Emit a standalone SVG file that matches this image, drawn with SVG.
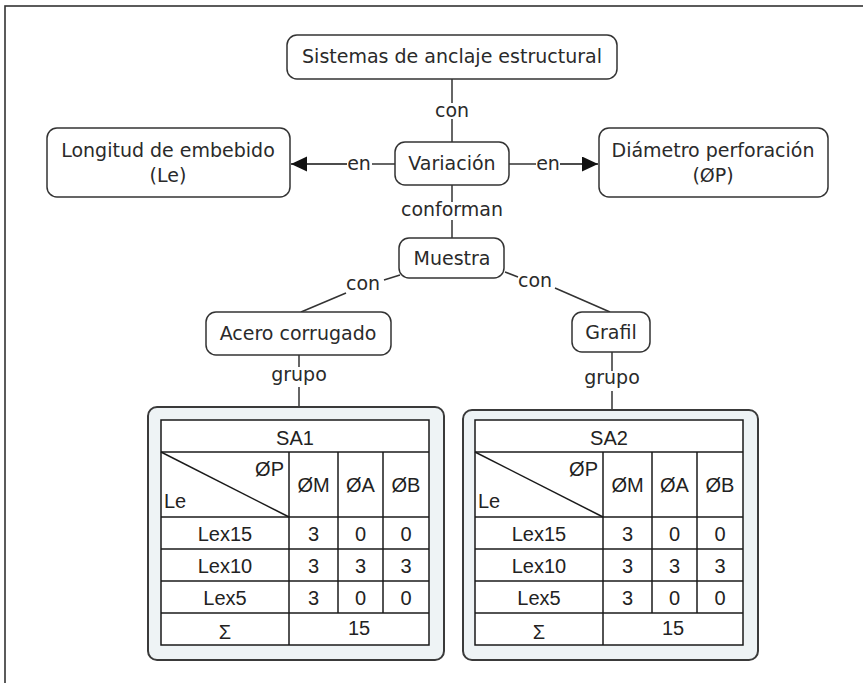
<svg xmlns="http://www.w3.org/2000/svg" width="863" height="683" viewBox="0 0 863 683">
  <style>
    .frame { fill: #ffffff; stroke: #333333; stroke-width: 1.6; }
    .concept rect { fill: #ffffff; stroke: #333333; stroke-width: 1.5; }
    .concept text, .link-label { font-family: "DejaVu Sans", Verdana, sans-serif; font-size: 19px; fill: #2a2a2a; text-anchor: middle; }
    .link { stroke: #333333; stroke-width: 1.5; fill: none; }
    .arrow { stroke: #111111; stroke-width: 1.5; fill: none; }
    .holder { fill: #eef3f5; stroke: #3a3a3a; stroke-width: 2; }
    .grid { fill: #ffffff; stroke: #1a1a1a; stroke-width: 1.5; }
    .gl { stroke: #1a1a1a; stroke-width: 1.5; }
    .cell { font-family: "Liberation Sans", Arial, sans-serif; font-size: 20px; fill: #222222; text-anchor: middle; }
    .cell.end { text-anchor: end; }
    .cell.start { text-anchor: start; }
  </style>
  <defs>
    <marker id="head" markerUnits="userSpaceOnUse" markerWidth="16" markerHeight="16" refX="16" refY="7.5" orient="auto">
      <path d="M0,0 L16,7.5 L0,15 Z" fill="#111111"/>
    </marker>
    <!-- grid, corner cell and values shared by both sample tables -->
    <g id="sample-table">
      <rect class="grid" x="161" y="420" width="268" height="225"/>
      <line class="gl" x1="161" y1="452" x2="429" y2="452"/>
      <line class="gl" x1="161" y1="517" x2="429" y2="517"/>
      <line class="gl" x1="161" y1="549" x2="429" y2="549"/>
      <line class="gl" x1="161" y1="581" x2="429" y2="581"/>
      <line class="gl" x1="161" y1="613" x2="429" y2="613"/>
      <line class="gl" x1="289" y1="452" x2="289" y2="645"/>
      <line class="gl" x1="338" y1="452" x2="338" y2="613"/>
      <line class="gl" x1="383" y1="452" x2="383" y2="613"/>
      <line class="gl" x1="161" y1="452" x2="289" y2="517"/>
      <text class="cell end" x="284" y="476">ØP</text>
      <text class="cell start" x="164" y="508">Le</text>
      <text class="cell" x="313.5" y="492">ØM</text>
      <text class="cell" x="360.5" y="492">ØA</text>
      <text class="cell" x="406" y="492">ØB</text>
      <text class="cell" x="225" y="541">Lex15</text>
      <text class="cell" x="313.5" y="541">3</text>
      <text class="cell" x="360.5" y="541">0</text>
      <text class="cell" x="406" y="541">0</text>
      <text class="cell" x="225" y="573">Lex10</text>
      <text class="cell" x="313.5" y="573">3</text>
      <text class="cell" x="360.5" y="573">3</text>
      <text class="cell" x="406" y="573">3</text>
      <text class="cell" x="225" y="605">Lex5</text>
      <text class="cell" x="313.5" y="605">3</text>
      <text class="cell" x="360.5" y="605">0</text>
      <text class="cell" x="406" y="605">0</text>
      <text class="cell" x="225" y="639">Σ</text>
      <text class="cell" x="359" y="635">15</text>
    </g>
  </defs>

  <!-- page frame -->
  <rect class="frame" x="5" y="6" width="900" height="700"/>

  <!-- links between concepts -->
  <g id="connectors">
    <line class="link" x1="452" y1="79" x2="452" y2="103"/>
    <line class="link" x1="452" y1="119" x2="452" y2="142"/>
    <text class="link-label" x="452" y="117">con</text>

    <line class="link" x1="395" y1="164" x2="372" y2="164"/>
    <text class="link-label" x="359" y="170">en</text>
    <line class="arrow" x1="347" y1="164" x2="291" y2="164" marker-end="url(#head)"/>

    <line class="link" x1="509" y1="164" x2="536" y2="164"/>
    <text class="link-label" x="548" y="170">en</text>
    <line class="arrow" x1="560" y1="164" x2="598" y2="164" marker-end="url(#head)"/>

    <line class="link" x1="452" y1="185" x2="452" y2="202"/>
    <text class="link-label" x="452" y="216">conforman</text>
    <line class="link" x1="452" y1="220" x2="452" y2="238"/>

    <line class="link" x1="400" y1="275" x2="384" y2="280"/>
    <text class="link-label" x="363" y="290">con</text>
    <line class="link" x1="346" y1="293" x2="301" y2="312"/>

    <line class="link" x1="505" y1="272" x2="518" y2="277"/>
    <text class="link-label" x="535" y="287">con</text>
    <line class="link" x1="555" y1="288" x2="610" y2="312"/>

    <line class="link" x1="299" y1="355" x2="299" y2="367"/>
    <text class="link-label" x="299" y="381">grupo</text>
    <line class="link" x1="299" y1="387" x2="299" y2="407"/>

    <line class="link" x1="612" y1="352" x2="612" y2="371"/>
    <text class="link-label" x="612" y="384">grupo</text>
    <line class="link" x1="612" y1="391" x2="612" y2="410"/>
  </g>

  <g id="n-sistemas" class="concept">
    <rect x="287" y="35" width="330" height="44" rx="10"/>
    <text x="452" y="63">Sistemas de anclaje estructural</text>
  </g>

  <g id="n-variacion" class="concept">
    <rect x="395" y="142" width="114" height="43" rx="10"/>
    <text x="452" y="170">Variación</text>
  </g>

  <g id="n-longitud" class="concept">
    <rect x="47" y="128" width="243" height="69" rx="10"/>
    <text x="168" y="157">Longitud de embebido</text>
    <text x="168" y="182">(Le)</text>
  </g>

  <g id="n-diametro" class="concept">
    <rect x="599" y="128" width="229" height="69" rx="10"/>
    <text x="713" y="157">Diámetro perforación</text>
    <text x="713" y="182">(ØP)</text>
  </g>

  <g id="n-muestra" class="concept">
    <rect x="399" y="238" width="105" height="40" rx="10"/>
    <text x="452" y="265">Muestra</text>
  </g>

  <g id="n-acero" class="concept">
    <rect x="206" y="312" width="185" height="43" rx="10"/>
    <text x="298" y="340">Acero corrugado</text>
  </g>

  <g id="n-grafil" class="concept">
    <rect x="572" y="312" width="78" height="40" rx="10"/>
    <text x="611" y="339">Grafil</text>
  </g>

  <!-- SA1 table -->
  <g id="n-sa1">
    <rect class="holder" x="148" y="407" width="296" height="253" rx="9"/>
    <use href="#sample-table"/>
    <text class="cell" x="295" y="445">SA1</text>
  </g>

  <!-- SA2 table -->
  <g id="n-sa2">
    <rect class="holder" x="463" y="410" width="295" height="250" rx="9"/>
    <use href="#sample-table" transform="translate(314,0)"/>
    <text class="cell" x="609" y="445">SA2</text>
  </g>
</svg>
